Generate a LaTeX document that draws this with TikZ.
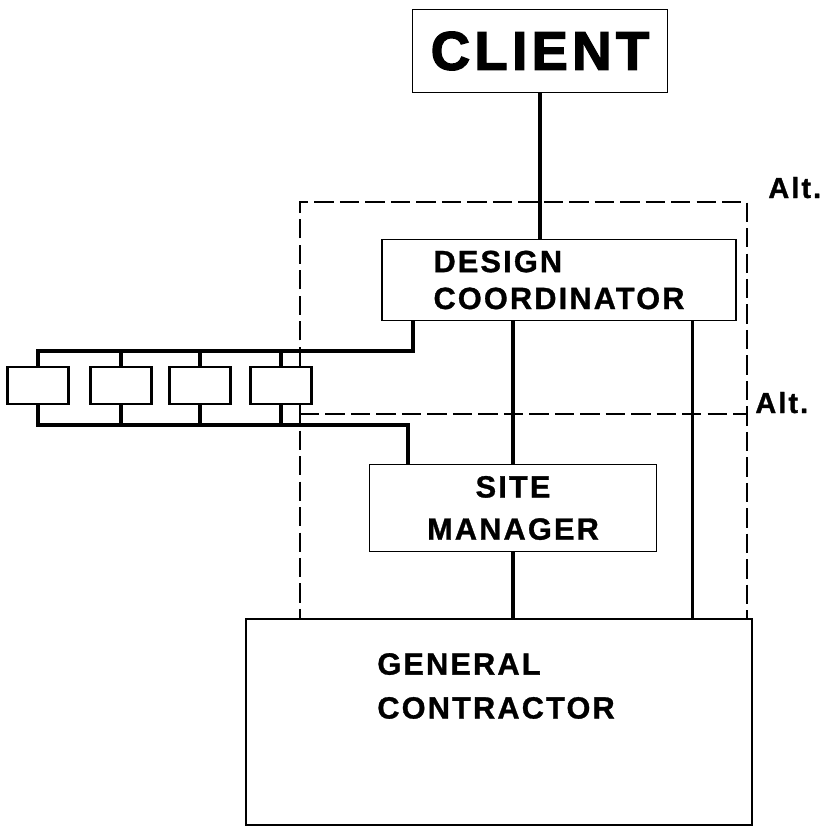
\documentclass[tikz,border=0pt]{standalone}
\usepackage{fontspec}
\setmainfont{Liberation Sans}
\newfontfamily\boxfont{Liberation Sans}[LetterSpace=7,FakeBold=1]
\newfontfamily\clientfont{Liberation Sans}[LetterSpace=8,FakeBold=2.5]
\usetikzlibrary{calc,positioning}

\begin{document}
\begin{tikzpicture}[
    x=0.02cm, y=-0.02cm,
    box/.style={draw, line width=1pt, inner sep=0pt,
        font={\boxfont\bfseries\fontsize{17.5}{24}\selectfont}},
    unit/.style={draw, line width=1.3pt, fill=white, inner sep=0pt,
        minimum width=1.22cm, minimum height=0.74cm},
    link/.style={line width=1.8pt},
    rail/.style={line width=2pt},
    frame/.style={line width=1.6pt, dash pattern=on 11pt off 3.5pt},
    alt/.style={inner sep=0pt, font={\boxfont\bfseries\fontsize{16.5}{16.5}\selectfont}}
]
\useasboundingbox (0,0) rectangle (829,828);

\node[box, minimum width=5.1cm, minimum height=1.66cm,
      font={\clientfont\bfseries\fontsize{31}{31}\selectfont}] (client) at (540,51) {CLIENT};
\node[box, align=left, minimum width=7.08cm, minimum height=1.62cm,
      font={\boxfont\bfseries\fontsize{17.5}{21}\selectfont}] (dc) at (559,280) {DESIGN\\COORDINATOR};
\node[box, align=center, minimum width=5.74cm, minimum height=1.74cm] (sm) at (513,508) {SITE\\MANAGER};
\node[box, minimum width=10.12cm, minimum height=4.12cm] (gc) at (499,722) {};
\node[font={\boxfont\bfseries\fontsize{17.5}{25}\selectfont}, align=left, anchor=west,
      inner sep=0pt] (gctext) at (377,686) {GENERAL\\CONTRACTOR};

% chain of units on the left
\foreach \n/\x in {1/38,2/121,3/200,4/281}
    \node[unit] (b\n) at (\x,385.5) {};

\coordinate (toprail) at (413,351);
\coordinate (botrail) at (408,425);
\coordinate (ftl) at (300,202);
\coordinate (ftr) at (747,202);
\coordinate (altl) at (300,414);
\coordinate (dcr) at ($(dc.south east)+(-44,0)$);

\draw[link] (client.south) -- (client.south |- dc.north);
\draw[link] (sm.north) -- (sm.north |- dc.south);
\draw[link] (sm.south) -- (sm.south |- gc.north);
\draw[link] (dcr) -- (dcr |- gc.north);

\draw[rail] (b1.north) |- (toprail) -- (toprail |- dc.south);
\draw[rail] (b1.south) |- (botrail) -- (botrail |- sm.north);
\foreach \n in {2,3,4} {
    \draw[rail] (b\n.north) -- (b\n.north |- toprail);
    \draw[rail] (b\n.south) -- (b\n.south |- botrail);
}

% alternative boundaries
\draw[frame] (ftl |- b4.north) -- (ftl) -- (ftr) -- (ftr |- gc.north);
\draw[frame] (ftl |- b4.south) -- (ftl |- gc.north);
\draw[frame] (altl) -- (altl -| ftr);
\node[alt, anchor=base west] (alt1) at (768,198) {Alt.};
\node[alt, anchor=base west] (alt2) at (755,413) {Alt.};
\end{tikzpicture}
\end{document}
